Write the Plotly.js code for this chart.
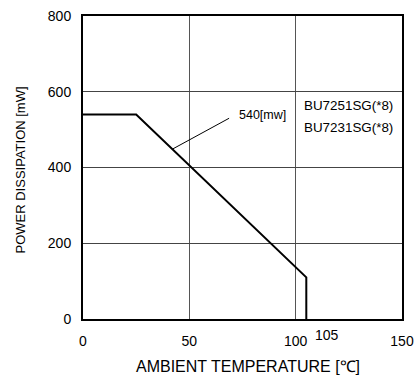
<!DOCTYPE html>
<html><head><meta charset="utf-8">
<script src="https://cdn.plot.ly/plotly-3.0.1.min.js"></script>
<style>html,body{margin:0;padding:0;background:#fff}#c{width:414px;height:376px}</style>
</head><body><div id="c"></div>
<script>
const tempC = [0, 25, 105, 105];
const powerMW = [540, 540, 110, 0];
const xTicks = [0, 50, 100, 150];
const xTickText = ["0", "50", "100", "150"];
const yTicks = [0, 200, 400, 600, 800];
const leaderX = [42.2, 68.7];
const leaderY = [449, 530];
const labelText = "540[mw]";
const partNames = ["BU7251SG(*8)", "BU7231SG(*8)"];
const cutoffLabel = "105";
const xTitle = "AMBIENT TEMPERATURE [℃]";
const yTitle = "POWER DISSIPATION [mW]";
const fnt = "Liberation Sans, Arial, sans-serif";

const traces = [
  {x: tempC, y: powerMW, mode: "lines", line: {color: "#000", width: 2}, hoverinfo: "skip"},
  {x: leaderX, y: leaderY, mode: "lines", line: {color: "#000", width: 1}, hoverinfo: "skip"}
];
const layout = {
  width: 414, height: 376,
  margin: {l: 83, r: 12, t: 16, b: 57},
  showlegend: false,
  paper_bgcolor: "#fff", plot_bgcolor: "#fff",
  font: {family: fnt, color: "#000", size: 14},
  xaxis: {range: [0, 150], tickvals: xTicks, ticktext: xTickText, showgrid: true,
    gridcolor: "#555", gridwidth: 1, zeroline: false, showline: true, linecolor: "#000", linewidth: 2,
    mirror: true, ticks: "", ticklabelstandoff: 8, tickfont: {size: 14, family: fnt}},
  yaxis: {range: [0, 800], tickvals: yTicks, showgrid: true, gridcolor: "#444", gridwidth: 1,
    zeroline: false, showline: true, linecolor: "#000", linewidth: 2, mirror: true, ticks: "",
    ticklabelstandoff: 7, tickfont: {size: 14, family: fnt}},
  annotations: [
    {x: 0.5, y: 0, xref: "paper", yref: "paper", text: xTitle, showarrow: false, xanchor: "center", yanchor: "middle", xshift: 5, yshift: -47, font: {size: 16}},
    {x: 0, y: 0.5, xref: "paper", yref: "paper", text: yTitle, textangle: -90, showarrow: false, xanchor: "center", yanchor: "middle", xshift: -63, yshift: -3, font: {size: 13}},
    {x: 105, y: 0, xref: "x", yref: "y", text: cutoffLabel, showarrow: false, xanchor: "left", xshift: 7, yshift: -16, font: {size: 14}},
    {x: 72.4, y: 539, xref: "x", yref: "y", text: labelText, showarrow: false, xanchor: "left", font: {size: 12.5}},
    {x: 103, y: 600, xref: "x", yref: "y", text: partNames[0], showarrow: false, xanchor: "left", yshift: -14, font: {size: 13.4}},
    {x: 103, y: 600, xref: "x", yref: "y", text: partNames[1], showarrow: false, xanchor: "left", yshift: -36, font: {size: 13.4}}
  ]
};
Plotly.newPlot("c", traces, layout, {displayModeBar: false, staticPlot: true});
</script></body></html>
